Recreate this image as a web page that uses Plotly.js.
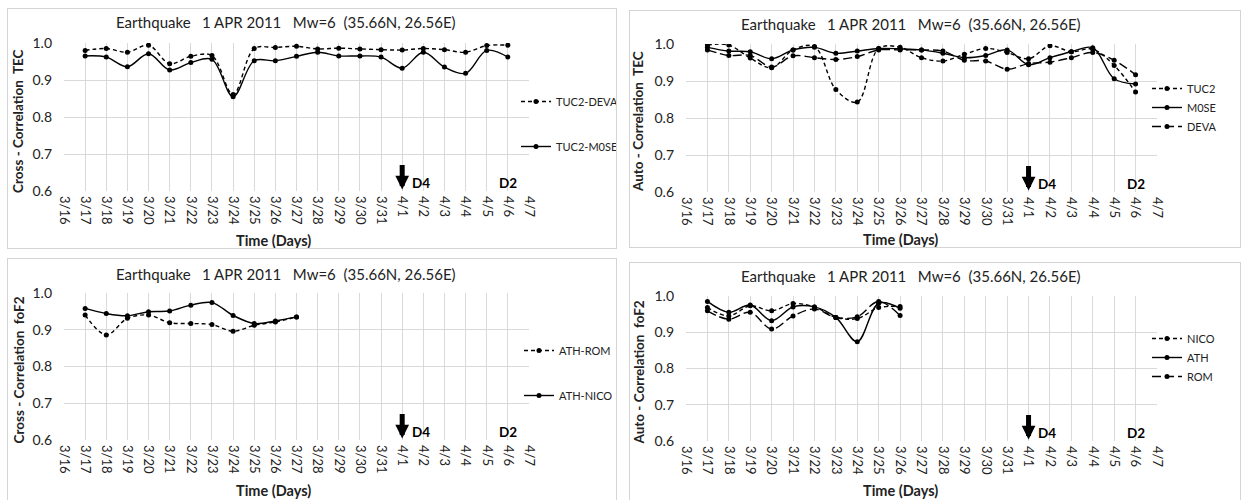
<!DOCTYPE html>
<html>
<head>
<meta charset="utf-8">
<script src="https://cdn.plot.ly/plotly-3.0.1.min.js"></script>
<style>
  html, body { margin:0; padding:0; background:#ffffff; width:1243px; height:500px; overflow:hidden; }
  .panel { position:absolute; border:1px solid #d4d4d4; box-sizing:border-box; background:#fff; }
</style>
</head>
<body>
<div id="p1" class="panel" style="left:7px;top:8px;width:610px;height:241px;"></div>
<div id="p2" class="panel" style="left:629px;top:10px;width:612px;height:238px;"></div>
<div id="p3" class="panel" style="left:7px;top:258px;width:610px;height:243px;"></div>
<div id="p4" class="panel" style="left:629px;top:262px;width:612px;height:239px;"></div>
<script>
// ---------- DATA ----------
const dayLabels = ["3/16","3/17","3/18","3/19","3/20","3/21","3/22","3/23","3/24","3/25","3/26","3/27",
                   "3/28","3/29","3/30","3/31","4/1","4/2","4/3","4/4","4/5","4/6","4/7"];
const yTicks = [0.6, 0.7, 0.8, 0.9, 1.0];
const yTickText = ["0.6","0.7","0.8","0.9","1.0"];

const titleText = "Earthquake\u00A0\u00A0\u00A01 APR 2011\u00A0\u00A0\u00A0Mw=6\u00A0\u00A0(35.66N, 26.56E)";

// Panel 1: Cross-correlation TEC (3/17 .. 4/6)
const tecDays = ["3/17","3/18","3/19","3/20","3/21","3/22","3/23","3/24","3/25","3/26","3/27",
                 "3/28","3/29","3/30","3/31","4/1","4/2","4/3","4/4","4/5","4/6"];
const tuc2Deva = [0.980,0.985,0.975,0.994,0.944,0.964,0.966,0.861,0.985,0.988,0.991,
                  0.984,0.986,0.984,0.982,0.981,0.985,0.982,0.975,0.993,0.994];
const tuc2Mose = [0.965,0.962,0.936,0.971,0.927,0.947,0.956,0.855,0.952,0.952,0.964,
                  0.975,0.965,0.965,0.962,0.932,0.975,0.935,0.918,0.980,0.962];

// Panel 2: Auto-correlation TEC (3/17 .. 4/6)
const autoTuc2 = [0.997,0.997,0.962,0.936,0.984,0.993,0.877,0.843,0.988,0.991,0.963,
                  0.954,0.972,0.988,0.977,0.960,0.995,0.979,0.986,0.942,0.870];
const autoMose = [0.991,0.981,0.979,0.960,0.984,0.991,0.975,0.981,0.988,0.987,0.984,
                  0.975,0.963,0.969,0.984,0.944,0.963,0.979,0.990,0.906,0.892];
const autoDeva = [0.984,0.969,0.969,0.938,0.968,0.963,0.958,0.966,0.984,0.984,0.984,
                  0.981,0.956,0.954,0.932,0.947,0.951,0.963,0.977,0.956,0.917];

// Panel 3: Cross-correlation foF2 (3/17 .. 3/27)
const fof2CrossDays = ["3/17","3/18","3/19","3/20","3/21","3/22","3/23","3/24","3/25","3/26","3/27"];
const athRom  = [0.940,0.886,0.931,0.940,0.919,0.917,0.914,0.896,0.912,0.921,0.935];
const athNico = [0.958,0.944,0.938,0.949,0.951,0.967,0.974,0.939,0.917,0.924,0.935];

// Panel 4: Auto-correlation foF2 (3/17 .. 3/26)
const fof2AutoDays = ["3/17","3/18","3/19","3/20","3/21","3/22","3/23","3/24","3/25","3/26"];
const autoNico = [0.968,0.945,0.973,0.959,0.979,0.970,0.941,0.938,0.968,0.971];
const autoAth  = [0.985,0.955,0.975,0.932,0.970,0.970,0.941,0.874,0.980,0.966];
const autoRom  = [0.959,0.936,0.955,0.909,0.945,0.964,0.941,0.943,0.985,0.946];

// event markers
const quakeDay = "4/1";
const markerLabels = [{text:"D4", day:"4/1", off:0.88}, {text:"D2", day:"4/6", off:0.0}];

// ---------- HELPERS ----------
const FONT = "Lato, 'Open Sans', sans-serif";
const SHORT_DASH = "4px,3px";
const LONG_DASH = "9px,4px";
const idx = d => dayLabels.indexOf(d);

function series(name, days, vals, dash) {
  return {
    type:"scatter", mode:"lines+markers", name:name,
    x: days.map(idx), y: vals,
    line:{color:"#000000", width:1.4, dash:dash, shape:"spline", smoothing:1},
    marker:{color:"#000000", size:5},
    legendgroup:name
  };
}

function makePanel(id, traces, o) {
  const el = document.getElementById(id);
  const W = el.clientWidth, H = el.clientHeight;
  const pw = W - o.l - o.r, ph = H - o.t - o.b;
  const annotations = [
    {text:titleText, xref:"paper", yref:"paper", x:(o.titleX)/pw, y:1 + o.titleDy/ph,
     xanchor:"center", yanchor:"middle", showarrow:false,
     font:{family:FONT, size:15, color:"#222"}},
    {text:"<b>Time (Days)</b>", xref:"paper", yref:"paper", x:o.xtX/pw, y:-o.xtDy/ph,
     xanchor:"center", yanchor:"middle", showarrow:false,
     font:{family:FONT, size:14.5, color:"#222"}},
    {text:"<b>"+o.ytitle+"</b>", xref:"paper", yref:"paper", x:-o.ytDx/pw, y:0.5 + o.ytDy/ph,
     xanchor:"center", yanchor:"middle", showarrow:false, textangle:-90,
     font:{family:FONT, size:13.5, color:"#222"}},
    {text:"", x:idx(quakeDay), y:0.604, xref:"x", yref:"y", ax:0, ay:-26,
     showarrow:true, arrowhead:2, arrowsize:0.55, arrowwidth:5, arrowcolor:"#000"}
  ];
  markerLabels.forEach(m => annotations.push({
    text:"<b>"+m.text+"</b>", x:idx(m.day)+m.off, y:0.6, xref:"x", yref:"y",
    xanchor:"center", yanchor:"bottom", yshift:-2, showarrow:false,
    font:{family:FONT, size:13.5, color:"#000"}
  }));
  const layout = {
    width:W, height:H,
    margin:{l:o.l, r:o.r, t:o.t, b:o.b, pad:0, autoexpand:false},
    paper_bgcolor:"#fff", plot_bgcolor:"#fff",
    showlegend:true,
    legend:{x:1 + o.legDx/pw, xanchor:"left", y:1 - o.legTop/ph, yanchor:"top",
            font:{family:FONT, size:11, color:"#222"}, itemwidth:30,
            tracegroupgap:o.legGap, bgcolor:"rgba(0,0,0,0)", borderwidth:0},
    xaxis:{type:"linear", range:[0, dayLabels.length-1], tickmode:"array",
           tickvals:dayLabels.map((d,i)=>i), ticktext:dayLabels, tickangle:90,
           showgrid:true, gridcolor:"#d9d9d9", gridwidth:1,
           zeroline:false, showline:false, ticks:"", automargin:false,
           ticklabelstandoff:4,
           tickfont:{family:FONT, size:13, color:"#222"}, fixedrange:true},
    yaxis:{range:[0.6, 1.0], tickmode:"array", tickvals:yTicks, ticktext:yTickText,
           showgrid:true, gridcolor:"#d9d9d9", gridwidth:1, zeroline:false, showline:false,
           ticks:"", ticklabelstandoff:11, automargin:false,
           tickfont:{family:FONT, size:14, color:"#222"}, fixedrange:true},
    annotations:annotations
  };
  Plotly.newPlot(el, traces, layout, {staticPlot:true, displayModeBar:false});
}

// ---------- PANELS ----------
makePanel("p1", [
  series("TUC2-DEVA", tecDays, tuc2Deva, SHORT_DASH),
  series("TUC2-M0SE", tecDays, tuc2Mose, "solid")
], {l:56, r:87, t:34, b:57, titleX:222, titleDy:21, xtX:209, xtDy:50, ytDx:46, ytDy:-4,
    ytitle:"Cross - Correlation\u00A0\u00A0TEC", legDx:-13, legTop:44, legGap:26});

makePanel("p2", [
  series("TUC2", tecDays, autoTuc2, SHORT_DASH),
  series("M0SE", tecDays, autoMose, "solid"),
  series("DEVA", tecDays, autoDeva, LONG_DASH)
], {l:56, r:83, t:33, b:55, titleX:225, titleDy:20, xtX:214, xtDy:47, ytDx:48, ytDy:-4,
    ytitle:"Auto - Correlation\u00A0\u00A0TEC", legDx:-10, legTop:30, legGap:0});

makePanel("p3", [
  series("ATH-ROM", fof2CrossDays, athRom, SHORT_DASH),
  series("ATH-NICO", fof2CrossDays, athNico, "solid")
], {l:56, r:87, t:34, b:60, titleX:222, titleDy:19, xtX:209, xtDy:50, ytDx:46, ytDy:-4,
    ytitle:"Cross - Correlation\u00A0\u00A0foF2", legDx:-10, legTop:43, legGap:26});

makePanel("p4", [
  series("NICO", fof2AutoDays, autoNico, SHORT_DASH),
  series("ATH", fof2AutoDays, autoAth, "solid"),
  series("ROM", fof2AutoDays, autoRom, LONG_DASH)
], {l:56, r:83, t:33, b:59, titleX:225, titleDy:20, xtX:214, xtDy:49, ytDx:48, ytDy:-4,
    ytitle:"Auto - Correlation\u00A0\u00A0foF2", legDx:-10, legTop:28, legGap:0});
</script>
</body>
</html>
